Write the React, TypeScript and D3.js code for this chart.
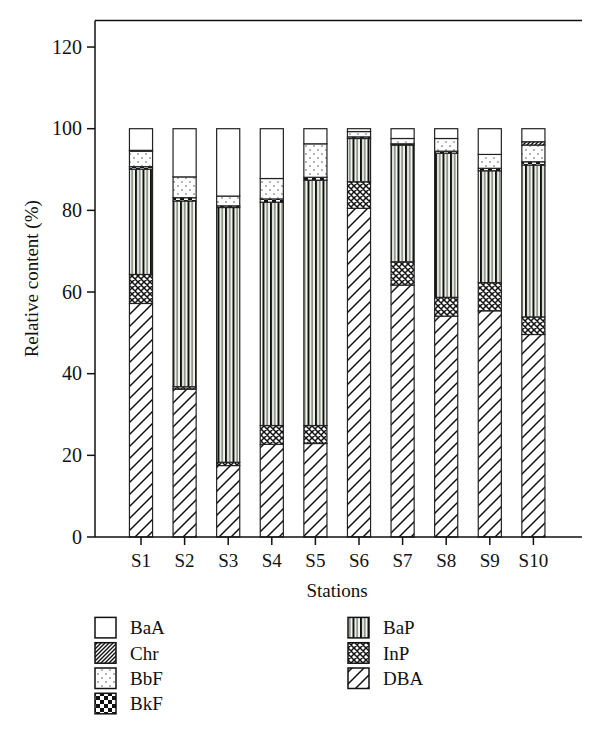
import React from "react";
import * as d3 from "d3";

const stations = ["S1", "S2", "S3", "S4", "S5", "S6", "S7", "S8", "S9", "S10"];
// stacked bottom -> top
const DBA = [57.2, 36.2, 17.5, 22.7, 22.9, 80.5, 61.7, 54.1, 55.4, 49.6];
const InP = [7.1, 0.6, 0.8, 4.6, 4.4, 6.5, 5.7, 4.6, 6.9, 4.3];
const BaP = [25.8, 45.5, 62.4, 54.7, 60.1, 10.6, 28.6, 35.3, 27.4, 37.2];
const BkF = [0.6, 0.8, 0.4, 0.8, 0.7, 0.4, 0.3, 0.5, 0.6, 0.8];
const BbF = [3.8, 5.1, 2.4, 5.0, 8.2, 1.3, 1.3, 3.1, 3.4, 4.1];
const Chr = [0.2, 0.0, 0.0, 0.0, 0.0, 0.0, 0.0, 0.0, 0.0, 0.8];
const BaA = [5.3, 11.8, 16.5, 12.2, 3.7, 0.7, 2.4, 2.4, 6.3, 3.2];

const seriesNames = ["DBA", "InP", "BaP", "BkF", "BbF", "Chr", "BaA"];
const seriesValues = [DBA, InP, BaP, BkF, BbF, Chr, BaA];
const legendCol1 = ["BaA", "Chr", "BbF", "BkF"];
const legendCol2 = ["BaP", "InP", "DBA"];
const yTicks = [0, 20, 40, 60, 80, 100, 120];

const FONT = "'Liberation Serif', 'DejaVu Serif', serif";

export default function App() {
  const W = 600;
  const H = 738;
  const xLeft = 95;
  const xRight = 582;
  const y = d3.scaleLinear().domain([0, 126.5]).range([537, 20.5]);
  const x = d3
    .scaleBand<string>()
    .domain(stations)
    .range([119.2, 555.2])
    .paddingInner(0.47)
    .paddingOuter(0.235);

  const table = stations.map((s, i) => {
    const row: any = { station: s };
    seriesNames.forEach((n, k) => (row[n] = seriesValues[k][i]));
    return row;
  });
  const stacked = d3.stack().keys(seriesNames)(table as any);

  const fill = (n: string) => `url(#pat-${n})`;

  return (
    <svg width={W} height={H} style={{ position: "absolute", left: 0, top: 0, background: "#fff" }}>
      <defs>
        <pattern id="pat-BaA" width="4" height="4" patternUnits="userSpaceOnUse">
          <rect width="4" height="4" fill="#fff" />
        </pattern>
        <pattern id="pat-Chr" width="4" height="4" patternUnits="userSpaceOnUse">
          <rect width="4" height="4" fill="#fff" />
          <path d="M-1,1 L1,-1 M0,4 L4,0 M3,5 L5,3" stroke="#111" strokeWidth="1.4" />
        </pattern>
        <pattern id="pat-BbF" width="8" height="8" patternUnits="userSpaceOnUse">
          <rect width="8" height="8" fill="#fff" />
          <circle cx="2" cy="2" r="0.8" fill="#555" />
          <circle cx="6" cy="6" r="0.8" fill="#555" />
        </pattern>
        <pattern id="pat-BkF" width="8" height="8" patternUnits="userSpaceOnUse">
          <rect width="8" height="8" fill="#fff" />
          <rect width="4" height="4" fill="#111" />
          <rect x="4" y="4" width="4" height="4" fill="#111" />
        </pattern>
        <pattern id="pat-BaP" width="7.5" height="4" patternUnits="userSpaceOnUse">
          <rect width="7.5" height="4" fill="#f3f7ec" />
          <rect x="0" width="2" height="4" fill="#111" />
          <rect x="4.2" width="1" height="4" fill="#444" />
        </pattern>
        <pattern id="pat-InP" width="6" height="6" patternUnits="userSpaceOnUse">
          <rect width="6" height="6" fill="#fff" />
          <path d="M0,0 L6,6 M6,0 L0,6 M-1,5 L1,7 M5,-1 L7,1 M-1,1 L1,-1 M5,7 L7,5" stroke="#111" strokeWidth="1.5" />
        </pattern>
        <pattern id="pat-DBA" width="12" height="12" patternUnits="userSpaceOnUse">
          <rect width="12" height="12" fill="#fff" />
          <path d="M0,12 L12,0 M-3,3 L3,-3 M9,15 L15,9" stroke="#111" strokeWidth="1.5" />
        </pattern>
      </defs>

      {/* bars */}
      {stacked.map((layer) => (
        <g key={layer.key}>
          {layer.map((d, i) => {
            const h = y(d[0]) - y(d[1]);
            if (h <= 0) return null;
            return (
              <rect
                key={i}
                x={x(stations[i])}
                y={y(d[1])}
                width={x.bandwidth()}
                height={h}
                fill={fill(layer.key)}
                stroke="#222"
                strokeWidth={1.2}
              />
            );
          })}
        </g>
      ))}

      {/* axes */}
      <line x1={xLeft} x2={xLeft} y1={y.range()[1]} y2={y(0)} stroke="#111" strokeWidth={1.5} />
      <line x1={xLeft} x2={xRight} y1={y(0)} y2={y(0)} stroke="#111" strokeWidth={1.5} />
      <line x1={xLeft} x2={xRight} y1={y.range()[1]} y2={y.range()[1]} stroke="#111" strokeWidth={1.5} />

      {yTicks.map((t) => (
        <g key={t}>
          <line x1={xLeft - 8} x2={xLeft} y1={y(t)} y2={y(t)} stroke="#111" strokeWidth={1.5} />
          <text x={xLeft - 13} y={y(t)} dy="0.34em" textAnchor="end" fontFamily={FONT} fontSize={20} fill="#111">
            {t}
          </text>
        </g>
      ))}
      {stations.map((s) => {
        const cx = (x(s) as number) + x.bandwidth() / 2;
        return (
          <g key={s}>
            <line x1={cx} x2={cx} y1={y(0)} y2={y(0) + 8} stroke="#111" strokeWidth={1.5} />
            <text x={cx} y={567} textAnchor="middle" fontFamily={FONT} fontSize={19} fill="#111">
              {s}
            </text>
          </g>
        );
      })}

      <text x={337} y={597} textAnchor="middle" fontFamily={FONT} fontSize={19} fill="#111">
        Stations
      </text>
      <text
        transform={`translate(38, ${(y(0) + y.range()[1]) / 2}) rotate(-90)`}
        textAnchor="middle"
        fontFamily={FONT}
        fontSize={19}
        fill="#111"
      >
        Relative content (%)
      </text>

      {/* legend */}
      {[legendCol1, legendCol2].map((col, ci) =>
        col.map((n, ri) => {
          const bx = ci === 0 ? 95 : 348;
          const by = 617.4 + ri * 25.3;
          return (
            <g key={n}>
              <rect x={bx} y={by} width={21} height={20.5} fill={fill(n)} stroke="#111" strokeWidth={1.5} />
              <text x={bx + 35} y={by + 17} fontFamily={FONT} fontSize={19} fill="#111">
                {n}
              </text>
            </g>
          );
        })
      )}
    </svg>
  );
}
